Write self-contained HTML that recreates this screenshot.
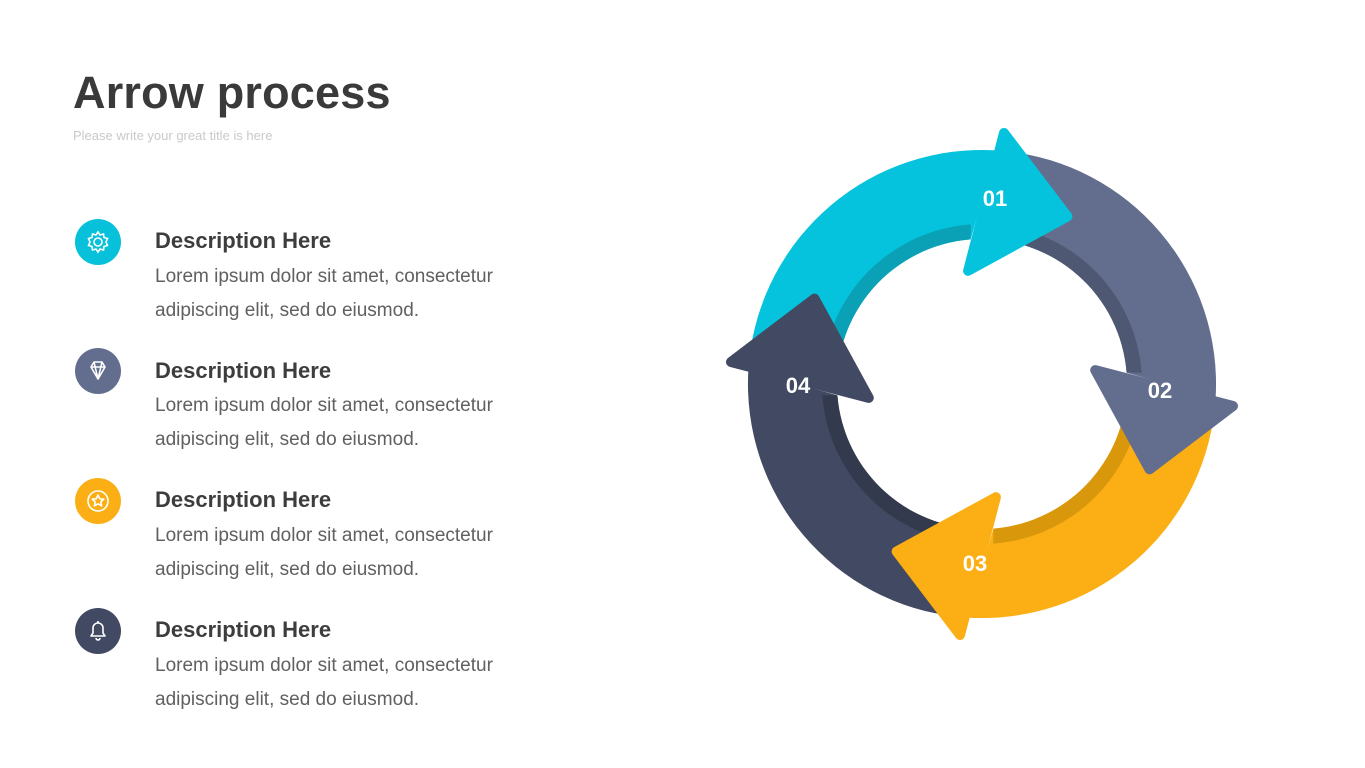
<!DOCTYPE html>
<html><head><meta charset="utf-8">
<style>
html,body{margin:0;padding:0;background:#fff;}
body{width:1365px;height:768px;position:relative;overflow:hidden;font-family:"Liberation Sans",sans-serif;}
.t{position:absolute;left:73px;top:67px;font-size:45px;font-weight:bold;color:#3a3a3a;letter-spacing:0.2px;white-space:nowrap;}
.st{position:absolute;left:73px;top:128px;font-size:13px;color:#c9c9c9;white-space:nowrap;}
.ic{position:absolute;left:75px;width:46px;height:46px;border-radius:50%;}
.ic svg{position:absolute;left:0;top:0;}
.h{position:absolute;left:155px;font-size:22px;font-weight:bold;color:#3d3d3d;white-space:nowrap;}
.p{position:absolute;left:155px;font-size:19px;color:#606060;line-height:34px;white-space:nowrap;letter-spacing:0px;}
</style></head><body>
<div class="t">Arrow process</div>
<div class="st">Please write your great title is here</div>

<div class="ic" style="top:219px;background:#07c0da"><svg width="46" height="46" viewBox="0 0 46 46" fill="none" stroke="#fff" stroke-width="1.6"><circle cx="23" cy="23" r="4"/><path d="M23 13l2 3 3.5-1 .5 3.5 3.5 1-1.5 3.5 1.5 3.5-3.5 1-.5 3.5-3.5-1-2 3-2-3-3.5 1-.5-3.5-3.5-1 1.5-3.5-1.5-3.5 3.5-1 .5-3.5 3.5 1z"/></svg></div>
<div class="h" style="top:228px">Description Here</div>
<div class="p" style="top:260px">Lorem ipsum dolor sit amet, consectetur<br>adipiscing elit, sed do eiusmod.</div>

<div class="ic" style="top:348px;background:#636e8f"><svg width="46" height="46" viewBox="0 0 46 46" fill="none" stroke="#fff" stroke-width="1.6" stroke-linejoin="round"><path d="M16 19l3-5h8l3 5-7 12z M16 19h14 M19 14l4 17 4-17"/></svg></div>
<div class="h" style="top:358px">Description Here</div>
<div class="p" style="top:389px">Lorem ipsum dolor sit amet, consectetur<br>adipiscing elit, sed do eiusmod.</div>

<div class="ic" style="top:478px;background:#fbaf14"><svg width="46" height="46" viewBox="0 0 46 46" fill="none" stroke="#fff" stroke-width="1.6" stroke-linejoin="round"><circle cx="23" cy="23" r="10"/><path d="M23 17l1.8 3.8 4 .4-3 2.7.9 4-3.7-2.1-3.7 2.1.9-4-3-2.7 4-.4z"/></svg></div>
<div class="h" style="top:487px">Description Here</div>
<div class="p" style="top:519px">Lorem ipsum dolor sit amet, consectetur<br>adipiscing elit, sed do eiusmod.</div>

<div class="ic" style="top:608px;background:#414a62"><svg width="46" height="46" viewBox="0 0 46 46" fill="none" stroke="#fff" stroke-width="1.6" stroke-linejoin="round"><path d="M16 28h14l-2-3v-5a5 5 0 0 0-10 0v5z M21 30a2 2 0 0 0 4 0 M23 13v2"/></svg></div>
<div class="h" style="top:617px">Description Here</div>
<div class="p" style="top:649px">Lorem ipsum dolor sit amet, consectetur<br>adipiscing elit, sed do eiusmod.</div>

<svg id="d" width="1365" height="768" style="position:absolute;left:0;top:0" xmlns="http://www.w3.org/2000/svg"></svg>
<script>
(function(){
var cx=982,cy=384,R=234,r=145,rs=160;
var cols=[["#05c3dc","#0aa1b6"],["#636e8f","#4f5873"],["#fbaf14","#d9980c"],["#414a62","#333a4e"]];
function pt(a,rad){a=a*Math.PI/180;return (cx+rad*Math.cos(a)).toFixed(1)+","+(cy+rad*Math.sin(a)).toFixed(1);}
function band(o0,o1,i0,i1,r1,r2){return "M"+pt(o0,r2)+" A"+r2+","+r2+" 0 0 1 "+pt(o1,r2)+" L"+pt(i1,r1)+" A"+r1+","+r1+" 0 0 0 "+pt(i0,r1)+"Z";}
var s="";
for(var k=0;k<4;k++){var b=-90+90*k;
 s+='<path d="'+band(b-84,b+3.5,b-93,b-4.5,r,R)+'" fill="'+cols[k][0]+'"/>';
 s+='<path d="'+band(b-92,b-4,b-93,b-4.5,r,rs)+'" fill="'+cols[k][1]+'"/>';}
for(var k=0;k<4;k++){var b=-90+90*k;
 s+='<path d="M'+pt(b-7,114)+' L'+pt(b+5,252)+' L'+pt(b+27,188)+'Z" fill="'+cols[k][0]+'" stroke="'+cols[k][0]+'" stroke-width="10" stroke-linejoin="round"/>';}
var L=[["01",995,198],["02",1160,390],["03",975,563],["04",798,385]];
L.forEach(function(l){s+='<text x="'+l[1]+'" y="'+(l[2]+8)+'" text-anchor="middle" font-family="Liberation Sans, sans-serif" font-weight="bold" font-size="22" fill="#fff">'+l[0]+'</text>';});
document.getElementById("d").innerHTML=s;
})();
</script>
</body></html>
